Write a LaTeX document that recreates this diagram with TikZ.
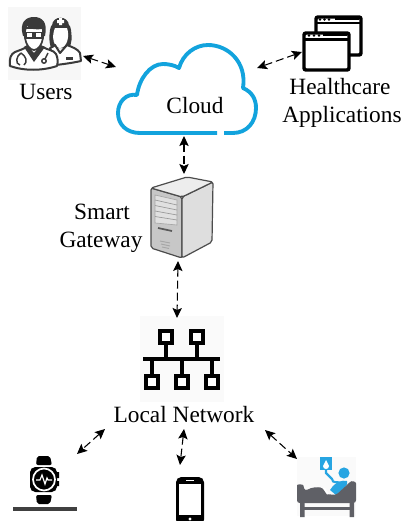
\documentclass[tikz,border=0pt]{standalone}
\usepackage{fontspec}
\setmainfont{Liberation Serif}
\usetikzlibrary{arrows.meta}
\definecolor{cloudblue}{HTML}{12A3DD}
\definecolor{iconblue}{HTML}{27A5E2}
\definecolor{beddark}{HTML}{5F6066}
\definecolor{icongray}{HTML}{3A3A3A}
\tikzset{
  lbl/.style={font=\fontsize{17.5pt}{20pt}\selectfont,anchor=base,inner sep=0pt,text=black},
  link/.style={{Stealth[length=7.5pt,width=7pt,inset=1.5pt]}-{Stealth[length=7.5pt,width=7pt,inset=1.5pt]},dash pattern=on 6pt off 3pt,line width=0.8pt},
  netbox/.style={draw=black,line width=3pt,fill=white,minimum width=9pt,minimum height=9pt,inner sep=0pt},
  netline/.style={draw=black,line width=3pt},
  win/.style={draw=black,line width=2.6pt,rounded corners=1.5pt,fill=white},
  doc/.style={draw=icongray,line width=1.5pt,line join=round},
  tick/.style={inner sep=0pt,minimum size=1pt},
}
\begin{document}
\begin{tikzpicture}[x=0.75pt,y=-0.75pt]
\useasboundingbox (0,0) rectangle (403,521);
\fill[white] (0,0) rectangle (403,521);

% ---- users icon
\fill[black!3] (8,7) rectangle (81,80);
% nurse
\fill[icongray] (50,30) .. controls (50,19) and (71,19) .. (71,30) .. controls (72,38) and (72,43) .. (69,48) -- (51,48) .. controls (49,42) and (49,37) .. (50,30) -- cycle;
\fill[icongray] (52,26) .. controls (52,15) and (69,15) .. (69,26) -- cycle;
\fill[white] (55,28) -- (67,28) .. controls (70,36) and (67,48) .. (60,48) .. controls (54,48) and (51,37) .. (55,28) -- cycle;
\fill[white] (59,18) -- (62,18) -- (62,20) -- (64,20) -- (64,23) -- (62,23) -- (62,25) -- (59,25) -- (59,23) -- (57,23) -- (57,20) -- (59,20) -- cycle;
\draw[doc,fill=white] (50,48) .. controls (53,47) and (54,46) .. (55,45) -- (60,53) -- (67,45) .. controls (72,47) and (78,49) .. (80,53) -- (81,61) .. controls (72,63) and (64,64) .. (56,65) -- cycle;
\fill[icongray] (66,57) rectangle (73,59.5);
% doctor
\draw[doc,fill=white] (10,66) .. controls (9,58) and (11,54) .. (15,52) .. controls (20,50) and (24,49) .. (26,47) -- (34,59) -- (43,47) .. controls (47,50) and (54,50) .. (56,54) .. controls (58,58) and (58,62) .. (57,66) .. controls (42,71) and (24,71) .. (10,66) -- cycle;
\fill[icongray] (24,47) -- (34,62) -- (45,47) -- (41,45) -- (34,53) -- (27,45) -- cycle;
\draw[icongray,line width=1.1pt] (21,53) .. controls (16,56) and (15,64) .. (20,65) (21,53) .. controls (26,56) and (28,62) .. (24,65);
\draw[icongray,line width=1.1pt,fill=white] (44,61) circle (2.2);
\draw[icongray,line width=1.1pt] (45,59) -- (48,53);
\draw[icongray,line width=1.3pt,fill=white] (25,28) -- (25,38) .. controls (26,45) and (30,50) .. (34,50) .. controls (38,50) and (42,45) .. (43,38) -- (43,28) -- cycle;
\fill[icongray] (23,36) .. controls (19,22) and (26,17) .. (34,17) .. controls (42,17) and (48,22) .. (45,36) -- (43,36) -- (42,29) .. controls (36,30) and (30,29) .. (27,26) -- (25,36) -- cycle;
\draw[icongray,line width=1pt,fill=white] (26,32.5) rectangle (33,38) (35,32.5) rectangle (42,38);
\draw[icongray,line width=1pt] (33,34) -- (35,34) (23,34) -- (26,34) (42,34) -- (45,34);
\node[tick] (users) at (46,44) {};

% ---- cloud
\draw[cloudblue,line width=2.9pt,line join=round]
  (217,133) -- (140,133)
  .. controls (126,133) and (118,124) .. (118,113)
  .. controls (118,102) and (126,93) .. (137,95)
  .. controls (139,79) and (150,64) .. (163,64)
  .. controls (168,64) and (174,65) .. (179,68)
  .. controls (183,54) and (195,45) .. (208,45)
  .. controls (228,45) and (247,62) .. (243,88)
  .. controls (252,92) and (256,99) .. (256,108)
  .. controls (256,122) and (247,133) .. (233,133)
  -- (224,133);
\node[lbl] (cloud) at (195,113) {Cloud};

% ---- apps icon
\draw[win] (316,17) rectangle (361,55);
\draw[black,line width=1.3pt] (335,19) -- (359,19);
\draw[black,line width=1.5pt] (316,23) -- (361,23);
\fill[black] (320,19.5) circle (1.3) (324.5,19.5) circle (1.3) (329,19.5) circle (1.3);
\draw[win] (304,33) rectangle (349,70);
\draw[black,line width=1.8pt] (304,39.5) -- (349,39.5);
\fill[black] (309,35.5) circle (1.3) (314,35.5) circle (1.3) (319,35.5) circle (1.3);
\draw[black,line width=1.3pt] (323,35) -- (347,35);
\node[tick] (apps) at (326,50) {};

% ---- labels
\node[lbl] (userslbl) at (46,99) {Users};
\node[lbl] (hc) at (340,94) {Healthcare};
\node[lbl] (ha) at (342,122) {Applications};
\node[lbl] (sm) at (102,219) {Smart};
\node[lbl] (gw) at (101,247) {Gateway};
\node[lbl] (ln) at (184,422) {Local Network};

% ---- server
\fill[black!22,draw=black!70,line width=0.9pt,line join=round,rounded corners=1.5pt] (151,188) -- (182,197) -- (182,258) -- (151,248) -- cycle;
\fill[black!13,draw=black!70,line width=0.9pt,line join=round,rounded corners=1.5pt] (182,197) -- (213,182) -- (212,242) -- (182,258) -- cycle;
\fill[black!7,draw=black!70,line width=0.9pt,line join=round,rounded corners=1.5pt] (151,188) -- (187,177) -- (213,182) -- (182,197) -- cycle;
\fill[black!12,draw=black!35,line width=0.5pt] (155,195) -- (177,200) -- (177,225) -- (155,223) -- cycle;
\foreach \i in {0,1,2,3}{\draw[black!40,line width=0.5pt] (155,{200+\i*5.5}) -- (177,{205+\i*5});}
\draw[black!65,line width=1.3pt] (158,228) -- (172,231);
\draw[black!35,line width=0.7pt] (160,241) -- (170,243) (161,244) -- (170,246) (162,247) -- (169,248.5);
\node[tick] (server) at (180,215) {};

% ---- network icon
\fill[black!2] (140,316) rectangle (224,402);
\path[netline] (166,345) -- (166,359) (197,345) -- (197,359) (143,359) -- (220,359)
  (152,359) -- (152,376) (182,359) -- (182,376) (212,359) -- (212,376);
\node[netbox] (n1) at (166,337) {};
\node[netbox] (n2) at (197,337) {};
\node[netbox] (n3) at (152,382) {};
\node[netbox] (n4) at (182,382) {};
\node[netbox] (n5) at (212,382) {};

% ---- watch
\fill[black,rounded corners=1.5pt] (37,456) -- (50,456) -- (52,465) -- (36,465) -- cycle;
\fill[black,rounded corners=1.5pt] (36,495) -- (52,495) -- (50,504) -- (37,504) -- cycle;
\fill[black,rounded corners=4pt] (30,467) rectangle (57,492);
\fill[black] (57,472) rectangle (59,478) (57,481) rectangle (59,486);
\draw[white,line width=1.3pt] (44,479.5) circle (11);
\draw[white,line width=0.9pt] (36,480) -- (40,480) -- (42,475) -- (45,484) -- (47,478) -- (48,480) -- (52,480);
\fill[black!75] (13,507) rectangle (77,511);
\node[tick] (watch) at (44,480) {};

% ---- phone
\fill[black,rounded corners=4pt] (176,477) rectangle (204,525);
\fill[white] (179,484) rectangle (201,515);
\fill[white] (186,480) rectangle (194,481.2);
\fill[white] (190,519) circle (1.6);
\node[tick] (phone) at (190,500) {};

% ---- bed
\fill[black!2] (297,457) rectangle (356,516);
\fill[iconblue] (320,457) rectangle (332,470);
\fill[white] (326,460) .. controls (327,463) and (329,465) .. (329,466) .. controls (329,470) and (323,470) .. (323,466) .. controls (323,465) and (325,463) .. (326,460) -- cycle;
\draw[iconblue,line width=1.6pt] (326,470) -- (326,473) -- (332,479) .. controls (333,484) and (336,481) .. (341,483);
\fill[iconblue] (344,473) circle (5.6);
\fill[iconblue] (330,490) .. controls (336,481) and (342,480) .. (347,481) .. controls (348,484) and (346,487) .. (342,490) -- (336,495) -- cycle;
\fill[beddark,rounded corners=2pt] (297,503) -- (297,488) .. controls (297,484) and (303,484) .. (304,488) -- (305,491) .. controls (312,487) and (318,487) .. (323,488) -- (326,494) -- (336,495) -- (348,484) .. controls (352,480) and (356,482) .. (356,486) -- (356,503) -- cycle;
\fill[white] (323,488) -- (325,487.5) -- (329,494) -- (327,494.5) -- cycle;
\fill[beddark] (300,503) rectangle (304.5,517) (349.5,503) rectangle (354,517);
\fill[beddark] (304,507) rectangle (350,510);
\node[tick] (bed) at (326,490) {};

% ---- connector ends
\coordinate (ua) at (83,56);  \coordinate (ub) at (116,67);
\coordinate (aa) at (302,52); \coordinate (ab) at (257,68);
\coordinate (ca) at (184,136); \coordinate (cb) at (184,174);
\coordinate (ga) at (178,261); \coordinate (gb) at (177,318);
\coordinate (wa) at (105,429); \coordinate (wb) at (77,454);
\coordinate (pa) at (184,429); \coordinate (pb) at (180,465);
\coordinate (ba) at (265,430); \coordinate (bb) at (297,459);
\draw[link] (ua) -- (ub);
\draw[link] (aa) -- (ab);
\draw[link] (ca) -- (cb);
\draw[link] (ga) -- (gb);
\draw[link] (wa) -- (wb);
\draw[link] (pa) -- (pb);
\draw[link] (ba) -- (bb);
\end{tikzpicture}
\end{document}
